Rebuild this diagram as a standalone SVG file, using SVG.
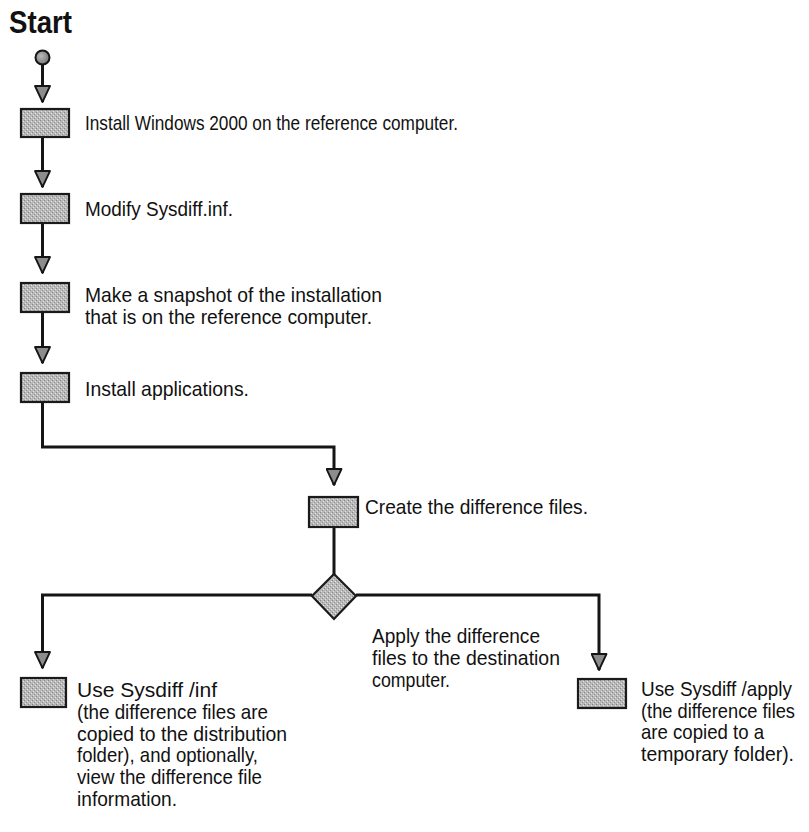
<svg xmlns="http://www.w3.org/2000/svg" width="809" height="832" viewBox="0 0 809 832">
<style>
.t{font-family:"Liberation Sans",Arial,sans-serif;font-size:21px;fill:#111}
.h{font-family:"Liberation Sans",Arial,sans-serif;font-size:31px;font-weight:bold;fill:#111}
.box{fill:url(#dots);stroke:#1a1a1a;stroke-width:2.2}
.c{fill:none;stroke:#151515;stroke-width:3;marker-end:url(#ah)}
.cn{fill:none;stroke:#151515;stroke-width:3}
</style>
<defs>
<pattern id="dots" width="4" height="4" patternUnits="userSpaceOnUse">
<rect width="4" height="4" fill="#b8b8b8"/>
<rect x="0" y="0" width="1" height="1" fill="#858585"/>
<rect x="2" y="2" width="1" height="1" fill="#959595"/>
<rect x="1" y="3" width="1" height="1" fill="#e0e0e0"/>
<rect x="3" y="1" width="1" height="1" fill="#e6e6e6"/>
</pattern>
<radialGradient id="cg" cx="0.4" cy="0.4" r="0.6">
<stop offset="0" stop-color="#bbbbbb"/>
<stop offset="1" stop-color="#777777"/>
</radialGradient>
<marker id="ah" viewBox="0 0 18 17" refX="17" refY="8.5" markerWidth="18" markerHeight="17" markerUnits="userSpaceOnUse" orient="auto">
<path d="M1,1 L17,8.5 L1,16 Z" fill="#8c8c8c" stroke="#151515" stroke-width="1.8" stroke-linejoin="round"/>
</marker>
</defs>

<text class="h" x="9" y="33" textLength="63" lengthAdjust="spacingAndGlyphs">Start</text>

<g id="connectors">
<line class="c" x1="42.5" y1="64" x2="42.5" y2="102"/>
<line class="c" x1="42.5" y1="137" x2="42.5" y2="187"/>
<line class="c" x1="42.5" y1="223" x2="42.5" y2="273"/>
<line class="c" x1="42.5" y1="312" x2="42.5" y2="363"/>
<polyline class="c" points="42.5,402 42.5,447 334,447 334,485"/>
<line class="cn" x1="334" y1="527" x2="334" y2="575"/>
<polyline class="c" points="312,595 42.5,595 42.5,668"/>
<polyline class="c" points="356,595 599,595 599,670"/>
</g>

<g id="start">
<circle cx="42.5" cy="57.5" r="7" fill="url(#cg)" stroke="#151515" stroke-width="2"/>
</g>

<g id="n1">
<rect class="box" x="21" y="109" width="48" height="28"/>
<text class="t" x="85" y="130" textLength="373" lengthAdjust="spacingAndGlyphs">Install Windows 2000 on the reference computer.</text>
</g>
<g id="n2">
<rect class="box" x="21" y="194" width="48" height="29"/>
<text class="t" x="85" y="216" textLength="148" lengthAdjust="spacingAndGlyphs">Modify Sysdiff.inf.</text>
</g>
<g id="n3">
<rect class="box" x="21" y="283" width="48" height="29"/>
<text class="t" x="85" y="302" textLength="297" lengthAdjust="spacingAndGlyphs">Make a snapshot of the installation</text>
<text class="t" x="85" y="324" textLength="287" lengthAdjust="spacingAndGlyphs">that is on the reference computer.</text>
</g>
<g id="n4">
<rect class="box" x="21" y="373" width="48" height="29"/>
<text class="t" x="85" y="396" textLength="164" lengthAdjust="spacingAndGlyphs">Install applications.</text>
</g>
<g id="n5">
<rect class="box" x="309" y="497" width="49" height="30"/>
<text class="t" x="365" y="514" textLength="223" lengthAdjust="spacingAndGlyphs">Create the difference files.</text>
</g>
<g id="decision">
<polygon points="334,574 356,596 334,619 312,596" fill="url(#dots)" stroke="#1a1a1a" stroke-width="2.2" stroke-linejoin="miter"/>
<text class="t" x="372" y="643" textLength="168" lengthAdjust="spacingAndGlyphs">Apply the difference</text>
<text class="t" x="372" y="665" textLength="188" lengthAdjust="spacingAndGlyphs">files to the destination</text>
<text class="t" x="372" y="687" textLength="78" lengthAdjust="spacingAndGlyphs">computer.</text>
</g>
<g id="n6">
<rect class="box" x="21" y="678" width="45" height="29"/>
<text class="t" x="77" y="697" textLength="140" lengthAdjust="spacingAndGlyphs">Use Sysdiff /inf</text>
<text class="t" x="77" y="719" textLength="191" lengthAdjust="spacingAndGlyphs">(the difference files are</text>
<text class="t" x="77" y="741" textLength="210" lengthAdjust="spacingAndGlyphs">copied to the distribution</text>
<text class="t" x="77" y="762" textLength="181" lengthAdjust="spacingAndGlyphs">folder), and optionally,</text>
<text class="t" x="77" y="784" textLength="185" lengthAdjust="spacingAndGlyphs">view the difference file</text>
<text class="t" x="77" y="806" textLength="100" lengthAdjust="spacingAndGlyphs">information.</text>
</g>
<g id="n7">
<rect class="box" x="578" y="679" width="48" height="29"/>
<text class="t" x="641" y="696" textLength="151" lengthAdjust="spacingAndGlyphs">Use Sysdiff /apply</text>
<text class="t" x="641" y="718" textLength="154" lengthAdjust="spacingAndGlyphs">(the difference files</text>
<text class="t" x="641" y="739" textLength="123" lengthAdjust="spacingAndGlyphs">are copied to a</text>
<text class="t" x="641" y="761" textLength="153" lengthAdjust="spacingAndGlyphs">temporary folder).</text>
</g>
</svg>
